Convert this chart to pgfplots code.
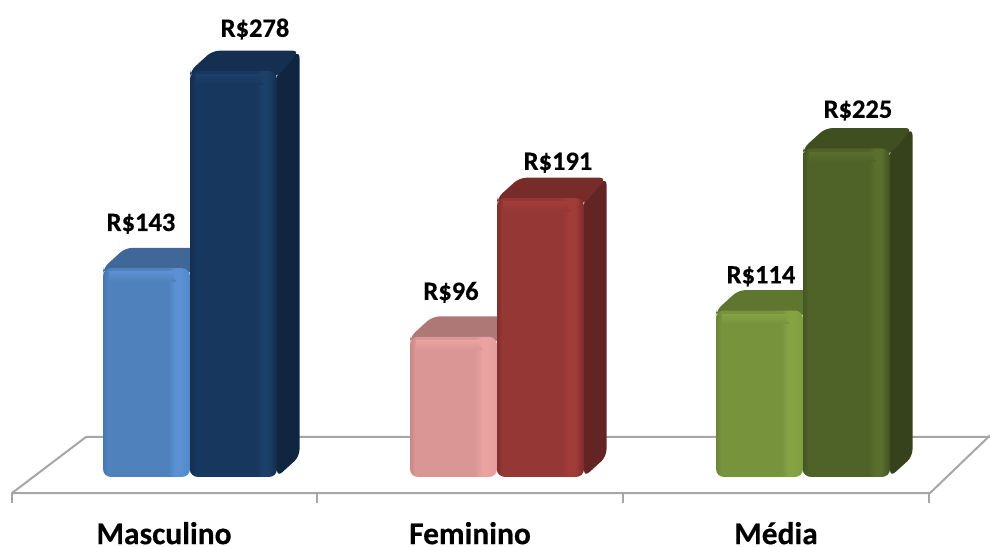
\documentclass[border=0pt]{standalone}
\usepackage{fontspec}
\setmainfont{Carlito}[BoldFeatures={FakeBold=0.35}]
\usepackage{pgfplots}
\pgfplotsset{compat=1.18}

% front-face colours: edge, body, sheen, right rim; then top and side faces
\definecolor{blueA}{HTML}{4676B2}\definecolor{blueB}{HTML}{4F81BD}\definecolor{blueC}{HTML}{5B90D2}\definecolor{blueD}{HTML}{5288C8}
\definecolor{blueT}{HTML}{3F6797}\definecolor{blueS}{HTML}{375A85}
\definecolor{navyA}{HTML}{132E50}\definecolor{navyB}{HTML}{17375E}\definecolor{navyC}{HTML}{1C4069}\definecolor{navyD}{HTML}{122B4A}
\definecolor{navyT}{HTML}{152F50}\definecolor{navyS}{HTML}{10253F}
\definecolor{roseA}{HTML}{C98886}\definecolor{roseB}{HTML}{D99694}\definecolor{roseC}{HTML}{EBA3A1}\definecolor{roseD}{HTML}{E29D9B}
\definecolor{roseT}{HTML}{AE7876}\definecolor{roseS}{HTML}{986968}
\definecolor{redA}{HTML}{7F2E2C}\definecolor{redB}{HTML}{953735}\definecolor{redC}{HTML}{A23C39}\definecolor{redD}{HTML}{7A2C2A}
\definecolor{redT}{HTML}{772C2A}\definecolor{redS}{HTML}{632523}
\definecolor{oliveA}{HTML}{6B8636}\definecolor{oliveB}{HTML}{77933C}\definecolor{oliveC}{HTML}{85A343}\definecolor{oliveD}{HTML}{7F9C40}
\definecolor{oliveT}{HTML}{5F7630}\definecolor{oliveS}{HTML}{50632A}
\definecolor{mossA}{HTML}{445522}\definecolor{mossB}{HTML}{4F6228}\definecolor{mossC}{HTML}{5A6F2E}\definecolor{mossD}{HTML}{414F20}
\definecolor{mossT}{HTML}{3F4F20}\definecolor{mossS}{HTML}{35421B}
\definecolor{floorline}{HTML}{A6A6A6}

\newcommand{\frontshading}[2]{%
  \pgfdeclarehorizontalshading{#1}{100bp}{%
    color(0bp)=(#2A); color(25bp)=(#2A); color(27.9bp)=(#2B); color(62.4bp)=(#2B);
    color(66.4bp)=(#2C); color(69.9bp)=(#2C); color(75bp)=(#2D); color(100bp)=(#2D)}}
\frontshading{blueF}{blue}
\frontshading{navyF}{navy}
\frontshading{roseF}{rose}
\frontshading{redF}{red}
\frontshading{oliveF}{olive}
\frontshading{mossF}{moss}

% One bar with its depth: #1 centre, #2 value, #3 palette
\newcommand{\solidbar}[3]{%
  \pgfmathsetmacro\xl{#1-43.5}\pgfmathsetmacro\xr{#1+43.5}%
  \pgfmathsetmacro\xb{\xr+22.5}\pgfmathsetmacro\xk{\xl+22.5}%
  \pgfmathsetmacro\yb{#2+14}\pgfmathsetmacro\sb{14}%
  \pgfmathsetmacro\xm{\xr-30}\pgfmathsetmacro\ys{#2-2.5}\pgfmathsetmacro\yt{#2-9}%
  \pgfmathsetmacro\xsl{\xl+6}\pgfmathsetmacro\xsr{\xr-14}\pgfmathsetmacro\xh{\xr-13}%
  \pgfmathsetmacro\yh{#2-6}\pgfmathsetmacro\yi{#2-4}\pgfmathsetmacro\ym{#2/2}%
  \addplot[draw=none,fill=#3S,rounded corners=7pt] coordinates
    {(\xr,\ym) (\xr,0) (\xb,\sb) (\xb,\yb) (\xr,#2) (\xr,\ym)};
  \addplot[draw=none,fill=#3T,rounded corners=7pt] coordinates
    {(\xm,\yb) (\xb,\yb) (\xr,\yi) (\xl,\yi) (\xl,#2) (\xk,\yb) (\xm,\yb)};
  \addplot[ybar,bar width=87,bar shift=0pt,draw=none,shade,shading=#3F,rounded corners=8pt]
    coordinates {(#1,#2)};
  \addplot[draw=none,top color=#3C,bottom color=#3B] coordinates
    {(\xsl,\ys) (\xsr,\ys) (\xsr,\yt) (\xsl,\yt)};
  \addplot[only marks,color=#3C,mark=*,mark size=3pt,
    mark options={solid,draw=#3C,fill=#3C}] coordinates {(\xh,\yh)};
}

\begin{document}
\begin{tikzpicture}
\useasboundingbox (0,0) rectangle (990pt,546pt);
\begin{axis}[
  at={(0,0)},anchor=south west,
  scale only axis,width=990pt,height=546pt,
  hide axis,clip=false,
  xmin=0,xmax=990,
  ymin=-47.26,ymax=326.71]

  % floor of the chart
  \addplot[floorline,line width=2pt,line join=round] coordinates
    {(990,27.4) (86,27.4) (12,-11) (930,-11) (990,28.5)};
  \addplot[floorline,line width=1.6pt] coordinates {(12,-11) (12,-17.8)};
  \addplot[floorline,line width=1.6pt] coordinates {(317,-11) (317,-17.8)};
  \addplot[floorline,line width=1.6pt] coordinates {(623,-11) (623,-17.8)};
  \addplot[floorline,line width=1.6pt] coordinates {(929,-11) (929,-17.8)};

  % Masculino
  \solidbar{146.5}{143}{blue}
  \solidbar{233.5}{278}{navy}
  % Feminino
  \solidbar{453.5}{96}{rose}
  \solidbar{540.5}{191}{red}
  % Média
  \solidbar{759.5}{114}{olive}
  \solidbar{846.5}{225}{moss}

  % value labels
  \begin{scope}[every node/.style={font=\fontsize{26.5}{28}\selectfont\bfseries,inner sep=0pt}]
    \node at (axis cs:141,173.5) {R\$143};
    \node at (axis cs:255,306.8) {R\$278};
    \node at (axis cs:451,126.5) {R\$96};
    \node at (axis cs:558,215.3) {R\$191};
    \node at (axis cs:761,137.5) {R\$114};
    \node at (axis cs:858,251) {R\$225};
  \end{scope}

  % category labels
  \begin{scope}[every node/.style={font=\fontsize{31.5}{33}\selectfont\bfseries,inner sep=0pt}]
    \node at (axis cs:164,-38.5) {Masculino};
    \node at (axis cs:470,-38.5) {Feminino};
    \node at (axis cs:776,-38.5) {Média};
  \end{scope}
\end{axis}
\end{tikzpicture}
\end{document}
